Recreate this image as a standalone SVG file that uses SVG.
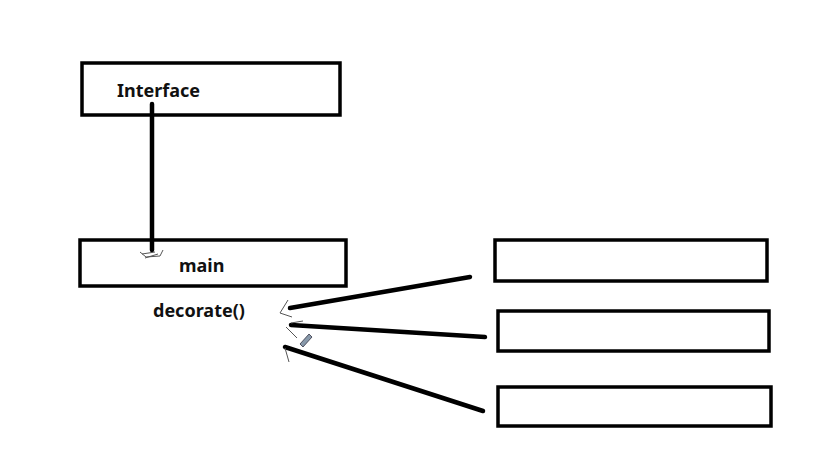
<svg xmlns="http://www.w3.org/2000/svg" width="830" height="466" viewBox="0 0 830 466">
<style>
.box{fill:#fff;stroke:#000;stroke-width:3.5}
.lbl{font-family:"Noto Sans","Open Sans",sans-serif;font-weight:bold;font-size:18px;fill:#111}
.conn{stroke:#000;stroke-width:4.5;stroke-linecap:round;fill:none}
.head{stroke:#555;stroke-width:1;fill:none}
</style>
<rect width="830" height="466" fill="#fff"/>
<g id="node-interface">
<rect class="box" x="82" y="63" width="258" height="52"/>
<text class="lbl" x="117" y="97">Interface</text>
</g>
<g id="node-main">
<rect class="box" x="80" y="240" width="266" height="46"/>
<text class="lbl" x="179" y="272">main</text>
</g>
<g id="node-decorate">
<text class="lbl" x="153" y="317">decorate()</text>
</g>
<g id="node-box1"><rect class="box" x="495" y="240" width="272" height="41"/></g>
<g id="node-box2"><rect class="box" x="498" y="311" width="271" height="40"/></g>
<g id="node-box3"><rect class="box" x="498" y="387" width="273" height="39"/></g>
<g id="connectors">
<line class="conn" x1="152" y1="104" x2="152" y2="250"/>
<path class="head" d="M140 252 L146 257 L160 256 L163 250 M142 254 L155 252 M145 258 L158 254"/>
<line class="conn" x1="470" y1="277" x2="290" y2="308"/>
<path class="head" d="M288 300 L280 313 L292 317"/>
<line class="conn" x1="485" y1="337" x2="291" y2="325"/>
<path class="head" d="M291 323 L303 321 M286 327 L297 338"/>
<line class="conn" x1="483" y1="411" x2="285" y2="347"/>
<path class="head" d="M285 348 L289 362"/>
<path d="M300 344 L309 334 L312 337 L303 347 Z" fill="#8899aa" stroke="#334" stroke-width="0.8"/>
</g>
</svg>
